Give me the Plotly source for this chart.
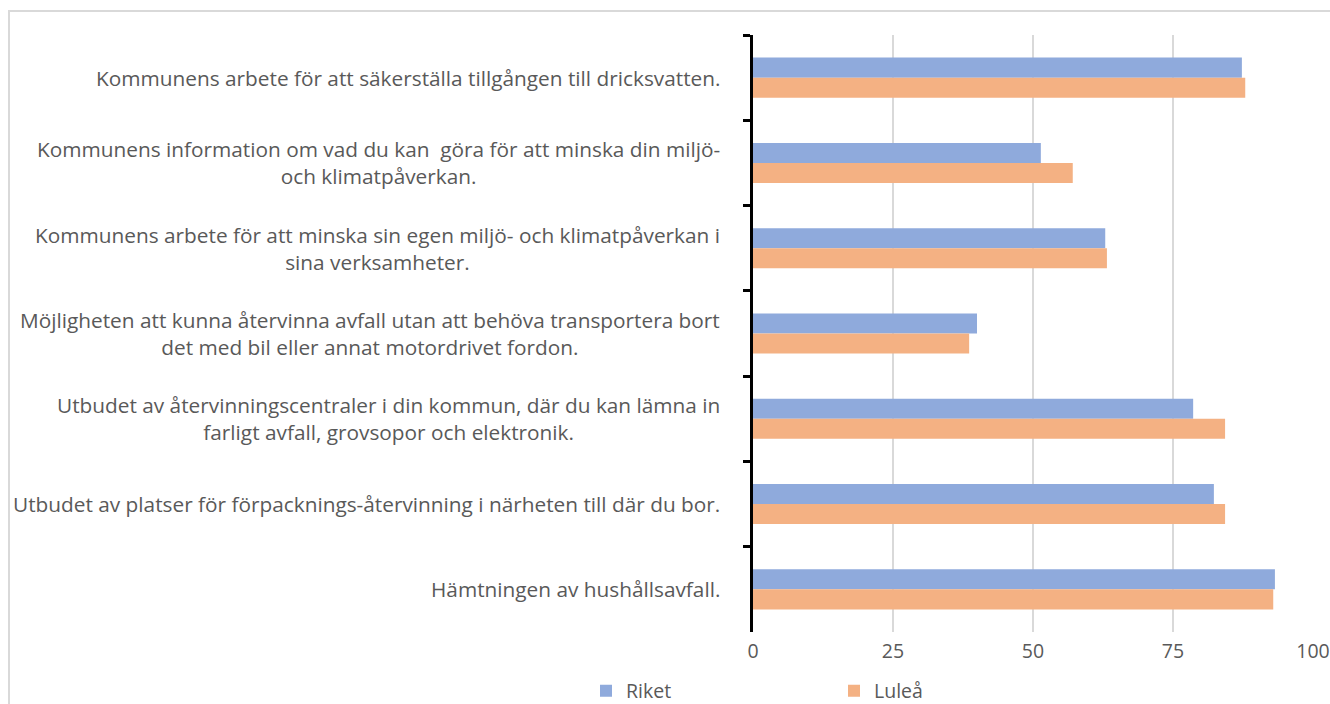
import plotly.graph_objects as go

categories = [
    "Kommunens arbete för att säkerställa tillgången till dricksvatten.",
    "Kommunens information om vad du kan  göra för att minska din miljö-<br>och klimatpåverkan.",
    "Kommunens arbete för att minska sin egen miljö- och klimatpåverkan i<br>sina verksamheter.",
    "Möjligheten att kunna återvinna avfall utan att behöva transportera bort<br>det med bil eller annat motordrivet fordon.",
    "Utbudet av återvinningscentraler i din kommun, där du kan lämna in<br>farligt avfall, grovsopor och elektronik.",
    "Utbudet av platser för förpacknings-återvinning i närheten till där du bor.",
    "Hämtningen av hushållsavfall.",
]
riket = [87.3, 51.4, 62.9, 40.0, 78.6, 82.3, 93.2]
lulea = [87.9, 57.1, 63.2, 38.6, 84.3, 84.3, 92.9]
x_ticks = [0, 25, 50, 75, 100]

FONT = "Open Sans"
GRAY = "#595959"
W, H = 1330, 704
ml, mr, mt, mb = 753, 17, 35, 72
pw, ph = W - ml - mr, H - mt - mb

fig = go.Figure()
fig.add_trace(go.Bar(y=categories, x=riket, name="Riket", orientation="h",
                     marker=dict(color="#8FAADC", line=dict(width=0))))
fig.add_trace(go.Bar(y=categories, x=lulea, name="Luleå", orientation="h",
                     marker=dict(color="#F4B183", line=dict(width=0))))

annotations = []
for c in categories:
    annotations.append(dict(
        x=(722 - ml) / pw, xref="paper", y=c, yref="y",
        text=c, showarrow=False, xanchor="right", yanchor="middle",
        align="center", font=dict(family=FONT, size=20.8, color=GRAY)))

fig.update_layout(
    width=W, height=H,
    margin=dict(l=ml, r=mr, t=mt, b=mb, autoexpand=False),
    paper_bgcolor="white", plot_bgcolor="white",
    barmode="group", bargap=0.53, bargroupgap=0,
    font=dict(family=FONT, color=GRAY),
    xaxis=dict(range=[0, 100], tickvals=x_ticks, showgrid=True,
               gridcolor="#d9d9d9", gridwidth=2, zeroline=False,
               showline=False, ticks="", tickfont=dict(size=19.5, color=GRAY),
               ticklabelstandoff=5, fixedrange=True),
    yaxis=dict(autorange="reversed", showticklabels=False, showline=True,
               linecolor="black", linewidth=2.5, ticks="outside",
               tickson="boundaries", ticklen=7, tickwidth=2.5,
               tickcolor="black", showgrid=False),
    legend=dict(orientation="h", x=(586 - ml) / pw, xanchor="left",
                y=(H - mb - 691) / ph, yanchor="middle", entrywidth=203,
                bgcolor="rgba(0,0,0,0)",
                font=dict(size=19.5, color=GRAY, family=FONT)),
    annotations=annotations,
    shapes=[dict(type="rect", xref="paper", yref="paper",
                 x0=(9 - ml) / pw, x1=(1340 - ml) / pw,
                 y0=(H - mb - 720) / ph, y1=(H - mb - 11) / ph,
                 line=dict(color="#d9d9d9", width=2), layer="below")],
)

fig.write_html(
    "out.html",
    config={"displayModeBar": False},
    post_script="document.body.style.margin='0';document.body.style.overflow='hidden';",
)
